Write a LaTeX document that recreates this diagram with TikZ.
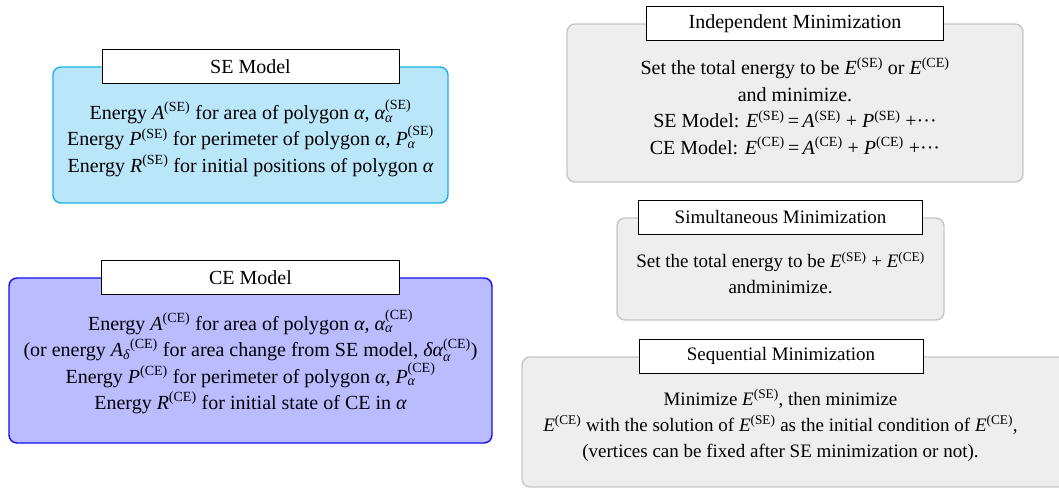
\documentclass[tikz,border=0pt]{standalone}
\usepackage{amsmath}
\usepackage{fontspec}
\setmainfont{Liberation Serif}
\newcommand{\mi}[1]{\textit{#1}}
\newcommand{\SEs}{^{\textrm{(SE)}}}
\newcommand{\CEs}{^{\textrm{(CE)}}}
\definecolor{sefill}{HTML}{BAE6FA}
\definecolor{sedraw}{HTML}{1BB0E6}
\definecolor{cefill}{HTML}{BBBBFF}
\definecolor{cedraw}{HTML}{1010F0}
\definecolor{gfill}{HTML}{EEEEEE}
\definecolor{gdraw}{HTML}{C6C6C6}
\begin{document}
\begin{tikzpicture}[x=1pt,y=-1pt,
  bigbox/.style={rectangle, rounded corners=8pt, line width=1.4pt, inner sep=0pt},
  sebox/.style={bigbox, draw=sedraw, fill=sefill},
  cebox/.style={bigbox, draw=cedraw, fill=cefill},
  gbox/.style={bigbox, draw=gdraw, fill=gfill},
  titlebox/.style={rectangle, draw=black, fill=white, line width=0.9pt, inner sep=0pt, minimum height=34pt, font=\fontsize{20}{24}\selectfont},
  smalltitle/.style={titlebox, font=\fontsize{19}{23}\selectfont},
  body/.style={align=center, inner sep=0pt, font=\fontsize{20}{26.5}\selectfont},
  smallbody/.style={body, font=\fontsize{19}{26}\selectfont}]
\useasboundingbox (0,0) rectangle (1059,490);
% SE model
\node[sebox, minimum width=395pt, minimum height=136pt] (se) at (250.5,135) {};
\node[titlebox, minimum width=297pt] (setitle) at (se.north) {SE Model};
\node[body] (setext) at (250.5,138) {Energy $\mi{A}\SEs$ for area of polygon $\mi{α}$, $\mi{α}\SEs_{\mi{α}}$\\
Energy $\mi{P}\SEs$ for perimeter of polygon $\mi{α}$, $\mi{P}\SEs_{\mi{α}}$\\
Energy $\mi{R}\SEs$ for initial positions of polygon $\mi{α}$};
% CE model
\node[cebox, minimum width=483pt, minimum height=165pt] (ce) at (250.5,360.5) {};
\node[titlebox, minimum width=298pt] (cetitle) at (ce.north) {CE Model};
\node[body] (cetext) at (250.5,362) {Energy $\mi{A}\CEs$ for area of polygon $\mi{α}$, $\mi{α}\CEs_{\mi{α}}$\\
(or energy ${\mi{A}}_{\mi{δ}}{}\CEs$ for area change from SE model, $\mi{δα}\CEs_{\mi{α}}$)\\
Energy $\mi{P}\CEs$ for perimeter of polygon $\mi{α}$, $\mi{P}\CEs_{\mi{α}}$\\
Energy $\mi{R}\CEs$ for initial state of CE in $\mi{α}$};
% Independent
\node[gbox, minimum width=456pt, minimum height=158pt] (ind) at (795,103) {};
\node[titlebox, minimum width=297pt] (indtitle) at (ind.north) {Independent Minimization};
\node[body] (indtext) at (795,106) {Set the total energy to be $\mi{E}\SEs$ or $\mi{E}\CEs$\\
and minimize.\\
SE Model: $\mi{E}\SEs$\,=\,$\mi{A}\SEs$ + $\mi{P}\SEs$ +···\\
CE Model: $\mi{E}\CEs$\,=\,$\mi{A}\CEs$ + $\mi{P}\CEs$ +···};
% Simultaneous
\node[gbox, minimum width=327pt, minimum height=102pt] (sim) at (780.5,269) {};
\node[smalltitle, minimum width=284pt] (simtitle) at (sim.north) {Simultaneous Minimization};
\node[smallbody] (simtext) at (780.5,273) {Set the total energy to be $\mi{E}\SEs$ + $\mi{E}\CEs$\\
andminimize.};
% Sequential
\node[gbox, minimum width=548pt, minimum height=130pt] (seq) at (796,422) {};
\node[smalltitle, minimum width=284pt] (seqtitle) at (781,356) {Sequential Minimization};
\node[smallbody] (seqtext) at (780.5,425) {Minimize $\mi{E}\SEs$, then minimize\\
$\mi{E}\CEs$ with the solution of $\mi{E}\SEs$ as the initial condition of $\mi{E}\CEs$,\\
(vertices can be fixed after SE minimization or not).};
\end{tikzpicture}
\end{document}
